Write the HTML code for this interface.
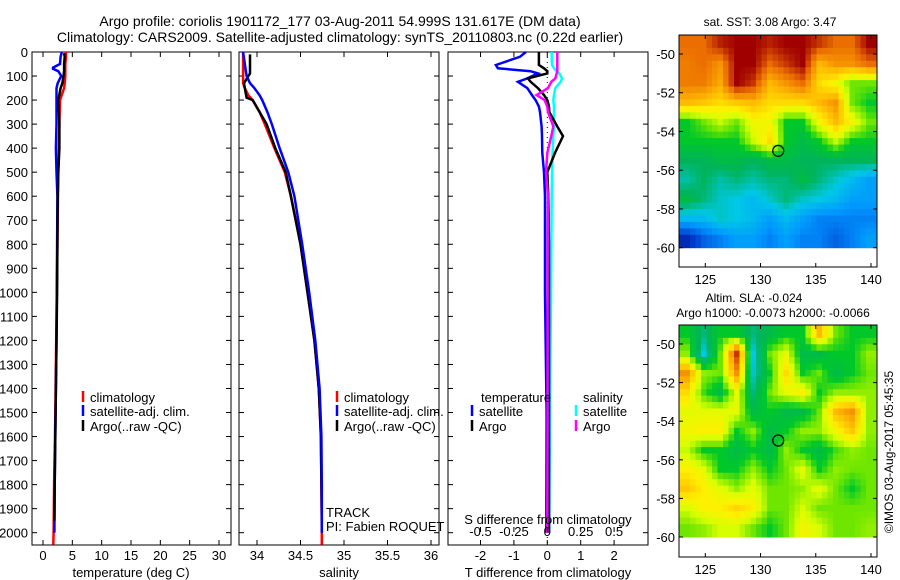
<!DOCTYPE html>
<html><head><meta charset="utf-8"><style>
body{margin:0;background:#fff}
svg{display:block;font-family:"Liberation Sans",sans-serif;font-size:13px}
</style></head><body>
<svg id="fig" width="900" height="580" viewBox="0 0 900 580">
<text x="340" y="26" text-anchor="middle" font-size="14">Argo profile: coriolis 1901172_177 03-Aug-2011 54.999S 131.617E (DM data)</text>
<text x="340" y="42" text-anchor="middle" font-size="14">Climatology: CARS2009. Satellite-adjusted climatology: synTS_20110803.nc (0.22d earlier)</text>
<g id="g"></g>
</svg>
<script>
// ---- data ----
const depthTicks=[0,100,200,300,400,500,600,700,800,900,1000,1100,1200,1300,1400,1500,1600,1700,1800,1900,2000];
const tempTicks=[0,5,10,15,20,25,30];
const salTicks=[34,34.5,35,35.5,36];
const salTickLabels=["34","34.5","35","35.5","36"];
const tdTicks=[-2,-1,0,1,2];
const sdTicks=[-0.5,-0.25,0,0.25,0.5];
const sdTickLabels=["-0.5","-0.25","0","0.25","0.5"];

const tDepthClim=[0,20,50,70,80,100,130,150,200,300,400,500,600,800,1000,1200,1400,1600,1800,2000,2050];
const tClim=[3.9,3.9,3.8,3.8,3.8,3.8,3.7,3.6,2.9,2.8,2.7,2.6,2.55,2.45,2.35,2.25,2.15,2.05,1.9,1.8,1.75];
const tDepthSat=[0,20,50,65,70,80,100,130,150,200,300,400,500,600,800,1000,1200,1400,1600,1800,2000];
const tSat=[3.2,3.0,2.9,1.7,1.7,2.6,3.1,2.5,2.3,2.3,2.3,2.2,2.3,2.45,2.4,2.35,2.3,2.2,2.1,2.0,1.95];
const tDepthArgo=[5,20,50,80,100,130,150,200,300,400,500,600,800,1000,1200,1400,1600,1800,1950];
const tArgo=[3.6,3.7,3.6,3.6,3.5,3.3,3.0,2.6,2.8,2.8,2.6,2.5,2.45,2.4,2.3,2.2,2.1,2.0,1.95];

const sDepthClim=[0,50,100,130,150,180,200,250,300,400,500,600,800,1000,1200,1400,1600,1800,2000,2050];
const sClim=[33.84,33.84,33.84,33.84,33.86,33.9,33.95,34.03,34.09,34.2,34.32,34.39,34.5,34.58,34.66,34.71,34.735,34.74,34.745,34.745];
const sDepthSat=[0,50,100,130,150,180,200,250,300,400,500,600,800,1000,1200,1400,1600,1800,2000];
const sSat=[33.84,33.86,33.88,33.92,33.97,34.03,34.06,34.12,34.17,34.26,34.36,34.43,34.52,34.6,34.67,34.72,34.74,34.745,34.745];
const sDepthArgo=[10,90,100,130,150,190,200,300,400,500,600,800,1000,1200,1400,1600,1800,1950];
const sArgo=[33.92,33.92,33.9,33.85,33.86,33.88,33.95,34.11,34.21,34.33,34.39,34.5,34.58,34.66,34.71,34.735,34.74,34.745];

const dDepth=[0,20,54,68,80,89,110,124,150,179,200,227,250,310,350,420,500,600,800,1000,1500,2000];
const dTSat=[-0.64,-0.82,-1.54,-1.48,-0.5,-0.28,-0.6,-0.88,-0.6,-0.46,-0.35,-0.25,-0.22,-0.17,-0.16,-0.15,-0.1,-0.07,-0.07,-0.07,-0.02,-0.03];
const dTArgo=[-0.25,-0.25,-0.25,-0.1,0,0,-0.58,-0.5,-0.28,-0.1,0,0.05,0.06,0.3,0.47,0.23,0,0.03,0.05,0.05,0.05,0.05];
const dSSat=[0.033,0.033,0.035,0.05,0.07,0.09,0.11,0.1,0.06,0.05,0.045,0.05,0.05,0.05,0.045,0.04,0.035,0.033,0.03,0.028,0.02,0.015];
const dSArgo=[0.075,0.075,0.075,0.075,0.075,0.07,0.06,0.03,0.005,-0.08,-0.02,0,0.005,0.045,0.03,0,-0.01,0.005,0.003,0.002,0.002,0.0];

const mapLonTicks=[125,130,135,140];
const mapLatTicks=[-50,-52,-54,-56,-58,-60];
const mapLats=[-49.5,-50.5,-51.5,-52.5,-53.5,-54.5,-55.5,-56.5,-57.5,-58.5,-59.5];
const mapLons=[123.3,124.8,126.3,127.8,129.3,130.8,132.3,133.8,135.3,136.8,138.3,139.8];
const sstGrid=[
[.9,.9,.97,1,1,.97,1,1,.95,.9,.9,1],
[.88,.9,.85,1,1,.9,.95,1,.8,.85,.85,.9],
[.88,.88,.82,1,.95,.8,.85,.9,.75,.7,.6,.6],
[.8,.78,.75,.78,.8,.75,.75,.75,.8,.85,.6,.55],
[.55,.6,.65,.6,.7,.7,.55,.55,.7,.8,.7,.6],
[.55,.55,.55,.55,.65,.75,.55,.5,.55,.65,.55,.55],
[.47,.47,.5,.5,.47,.5,.5,.47,.47,.47,.47,.47],
[.42,.47,.42,.45,.42,.45,.45,.5,.45,.4,.35,.3],
[.5,.45,.4,.38,.35,.4,.45,.4,.38,.35,.3,.3],
[.35,.35,.4,.38,.35,.3,.35,.3,.25,.25,.25,.25],
[.1,.2,.25,.3,.3,.25,.3,.25,.25,.2,.25,.3]];
const slaGrid=[
[.55,.45,.55,.55,.45,.5,.55,.55,.8,.6,.55,.55],
[.62,.38,.6,.95,.38,.6,.68,.5,.5,.55,.55,.62],
[.85,.62,.6,.85,.4,.55,.75,.55,.6,.5,.55,.6],
[.75,.58,.5,.68,.45,.6,.68,.72,.55,.62,.62,.62],
[.68,.68,.68,.68,.5,.55,.5,.5,.6,.8,.85,.62],
[.7,.72,.72,.55,.62,.5,.55,.62,.62,.7,.78,.62],
[.65,.55,.55,.5,.55,.5,.62,.55,.5,.58,.62,.6],
[.72,.68,.55,.55,.62,.55,.6,.68,.55,.62,.6,.6],
[.78,.72,.68,.62,.68,.6,.6,.62,.68,.6,.55,.6],
[.66,.72,.72,.76,.72,.6,.6,.66,.6,.6,.6,.6],
[.6,.62,.66,.66,.6,.55,.6,.7,.66,.6,.6,.62]];
const argoLon=131.6, argoLat=-55.0;

// ---- helpers ----
const NS="http://www.w3.org/2000/svg", G=document.getElementById('g');
function el(t,a,p){const e=document.createElementNS(NS,t);for(const k in a)e.setAttribute(k,a[k]);(p||G).appendChild(e);return e;}
function txt(x,y,s,anchor,nm,size){const e=el('text',{x:x,y:y,'text-anchor':anchor||'start'});if(size)e.setAttribute('font-size',size);e.textContent=s;


return e;}
const Y0=52,Y1=545;
const yD=d=>Y0+d*(532.7-52)/2000;
function poly(xs,ds,fx,col,nm,w){const pts=xs.map((v,i)=>fx(v).toFixed(1)+','+yD(ds[i]).toFixed(1)).join(' ');
const p=el('polyline',{points:pts,fill:'none',stroke:col,'stroke-width':w||2.5,'stroke-linejoin':'miter'});

}
function frame(x0,x1,nm,leftLabels){const r=el('rect',{x:x0,y:Y0,width:x1-x0,height:Y1-Y0,fill:'none',stroke:'#000','stroke-width':1});


depthTicks.forEach(d=>{const y=yD(d);el('line',{x1:x0,x2:x0+5,y1:y,y2:y,stroke:'#000'});el('line',{x1:x1-5,x2:x1,y1:y,y2:y,stroke:'#000'});
if(leftLabels)txt(x0-4,y+5,String(d),'end','depth-tick-label');});}
function xticks(x0,x1,ticks,labels,fx,nm){ticks.forEach((t,i)=>{const x=fx(t);el('line',{x1:x,x2:x,y1:Y0,y2:Y0+5,stroke:'#000'});el('line',{x1:x,x2:x,y1:Y1-5,y2:Y1,stroke:'#000'});
txt(x,560,labels[i],'middle',nm);});}

// Panel 1 temperature
const fxT=v=>43+v*(219-43)/30;
frame(32,231,'temperature-panel',true);
xticks(32,231,tempTicks,tempTicks.map(String),fxT,'temperature-tick-label');
txt(131,577,'temperature (deg C)','middle','temperature-axis-title');
poly(tClim,tDepthClim,fxT,'#f00','temp-climatology-line');
poly(tSat,tDepthSat,fxT,'#00f','temp-satellite-line');
poly(tArgo,tDepthArgo,fxT,'#000','temp-argo-line');
function legend(x,ys,cols,labels,nm){ys.forEach((y,i)=>{el('line',{x1:x,x2:x,y1:y-11,y2:y,stroke:cols[i],'stroke-width':2.5});txt(x+7,y,labels[i],'start',nm);});}
legend(83,[402,416,431],['#f00','#00f','#000'],['climatology','satellite-adj. clim.','Argo(..raw -QC)'],'temp-legend-entry');

// Panel 2 salinity
const fxS=v=>257+(v-34)*87;
frame(239,439,'salinity-panel',false);
xticks(239,439,salTicks,salTickLabels,fxS,'salinity-tick-label');
txt(339,577,'salinity','middle','salinity-axis-title');
poly(sClim,sDepthClim,fxS,'#f00','sal-climatology-line');
poly(sArgo,sDepthArgo,fxS,'#000','sal-argo-line');
poly(sSat,sDepthSat,fxS,'#00f','sal-satellite-line');
legend(337,[402,416,431],['#f00','#00f','#000'],['climatology','satellite-adj. clim.','Argo(..raw -QC)'],'sal-legend-entry');
txt(326,517,'TRACK','start','track-label');
txt(326,531,'PI: Fabien ROQUET','start','pi-label');

// Panel 3 differences
const fxTD=v=>547.3+v*33.4, fxSD=v=>547.3+v*133.6;
frame(448,648,'difference-panel',false);
xticks(448,648,tdTicks,tdTicks.map(String),fxTD,'tdiff-tick-label');
el('line',{x1:547.3,x2:547.3,y1:Y0,y2:Y1,stroke:'#000','stroke-dasharray':'1,4'});
poly(dSSat,dDepth,fxSD,'#0ff','sdiff-satellite-line');
poly(dTSat,dDepth,fxTD,'#00f','tdiff-satellite-line');
poly(dTArgo,dDepth,fxTD,'#000','tdiff-argo-line');
poly(dSArgo,dDepth,fxSD,'#f0f','sdiff-argo-line');
sdTicks.forEach((t,i)=>{const x=fxSD(t);el('line',{x1:x,x2:x,y1:Y1-13,y2:Y1-18,stroke:'#000'});txt(x,536,sdTickLabels[i],'middle','sdiff-tick-label');});
txt(548,524,'S difference from climatology','middle','sdiff-axis-title');
txt(548,577,'T difference from climatology','middle','tdiff-axis-title');
txt(481,402,'temperature','start','legend-temperature-header');
legend(472,[416,431],['#00f','#000'],['satellite','Argo'],'tdiff-legend-entry');
txt(583,402,'salinity','start','legend-salinity-header');
legend(576,[416,431],['#0ff','#f0f'],['satellite','Argo'],'sdiff-legend-entry');

// Maps
const cmapStops=[[0,[0,0,128]],[0.15,[0,64,208]],[0.28,[0,150,255]],[0.38,[0,200,230]],[0.47,[0,180,90]],[0.55,[0,200,40]],[0.6,[110,230,0]],[0.66,[215,255,0]],[0.72,[255,240,0]],[0.8,[255,185,0]],[0.9,[235,110,0]],[1,[160,0,0]]];
function cmap(v){v=Math.min(1,Math.max(0,v));for(let k=1;k<cmapStops.length;k++){const a=cmapStops[k-1],b=cmapStops[k];if(v<=b[0]){const f=(v-a[0])/(b[0]-a[0]);
return 'rgb('+a[1].map((c,m)=>Math.round(c+(b[1][m]-c)*f)).join(',')+')';}}return 'rgb(160,0,0)';}
function sample(grid,r,c){const R=grid.length-1,C=grid[0].length-1;r=Math.min(R,Math.max(0,r));c=Math.min(C,Math.max(0,c));
const r0=Math.floor(r),c0=Math.floor(c),r1=Math.min(R,r0+1),c1=Math.min(C,c0+1),fr=r-r0,fc=c-c0;
return grid[r0][c0]*(1-fr)*(1-fc)+grid[r0][c1]*(1-fr)*fc+grid[r1][c0]*fr*(1-fc)+grid[r1][c1]*fr*fc;}
function map(top,bot,latM50,latM60,grid,nm){
const L=679,R=877;const fx=lon=>705.3+(lon-125)*(871-705.3)/15, fy=lat=>latM50+(lat+50)*(latM60-latM50)/(-10);
const S=3, nR=grid.length*S, nC=grid[0].length*S;
const yTop=top, yBot=fy(-60), cw=(R-L)/nC, ch=(yBot-yTop)/nR;
for(let i=0;i<nR;i++)for(let j=0;j<nC;j++){const v=sample(grid,(i+0.5)/S-0.5,(j+0.5)/S-0.5);
const c=el('rect',{x:(L+j*cw).toFixed(2),y:(yTop+i*ch).toFixed(2),width:(cw+0.5).toFixed(2),height:(ch+0.5).toFixed(2),fill:cmap(v)});

}
const f=el('rect',{x:L,y:top,width:R-L,height:bot-top,fill:'none',stroke:'#000'});


mapLonTicks.forEach(t=>{const x=fx(t);el('line',{x1:x,x2:x,y1:top,y2:top+4,stroke:'#000'});el('line',{x1:x,x2:x,y1:bot-4,y2:bot,stroke:'#000'});txt(x,bot+17,String(t),'middle',nm+'-lon-label');});
mapLatTicks.forEach(t=>{const y=fy(t);el('line',{x1:L,x2:L+4,y1:y,y2:y,stroke:'#000'});el('line',{x1:R-4,x2:R,y1:y,y2:y,stroke:'#000'});txt(L-4,y+5,String(t),'end',nm+'-lat-label');});
const c=el('circle',{cx:fx(argoLon),cy:fy(argoLat),r:5.5,fill:'none',stroke:'#000','stroke-width':1.2});

}
map(35,267,54,247.7,sstGrid,'sst-map');
txt(770,26,'sat. SST: 3.08 Argo: 3.47','middle','sst-map-title',12);
map(325,557,344,537,slaGrid,'sla-map');
txt(754,302,'Altim. SLA: -0.024','middle','sla-map-title',12);
txt(773,317,'Argo h1000: -0.0073 h2000: -0.0066','middle','sla-map-subtitle',12);
const im=txt(0,0,'©IMOS 03-Aug-2017 05:45:35','middle','imos-credit',12);
im.setAttribute('transform','translate(893,452) rotate(-90)');
</script>
</body></html>
